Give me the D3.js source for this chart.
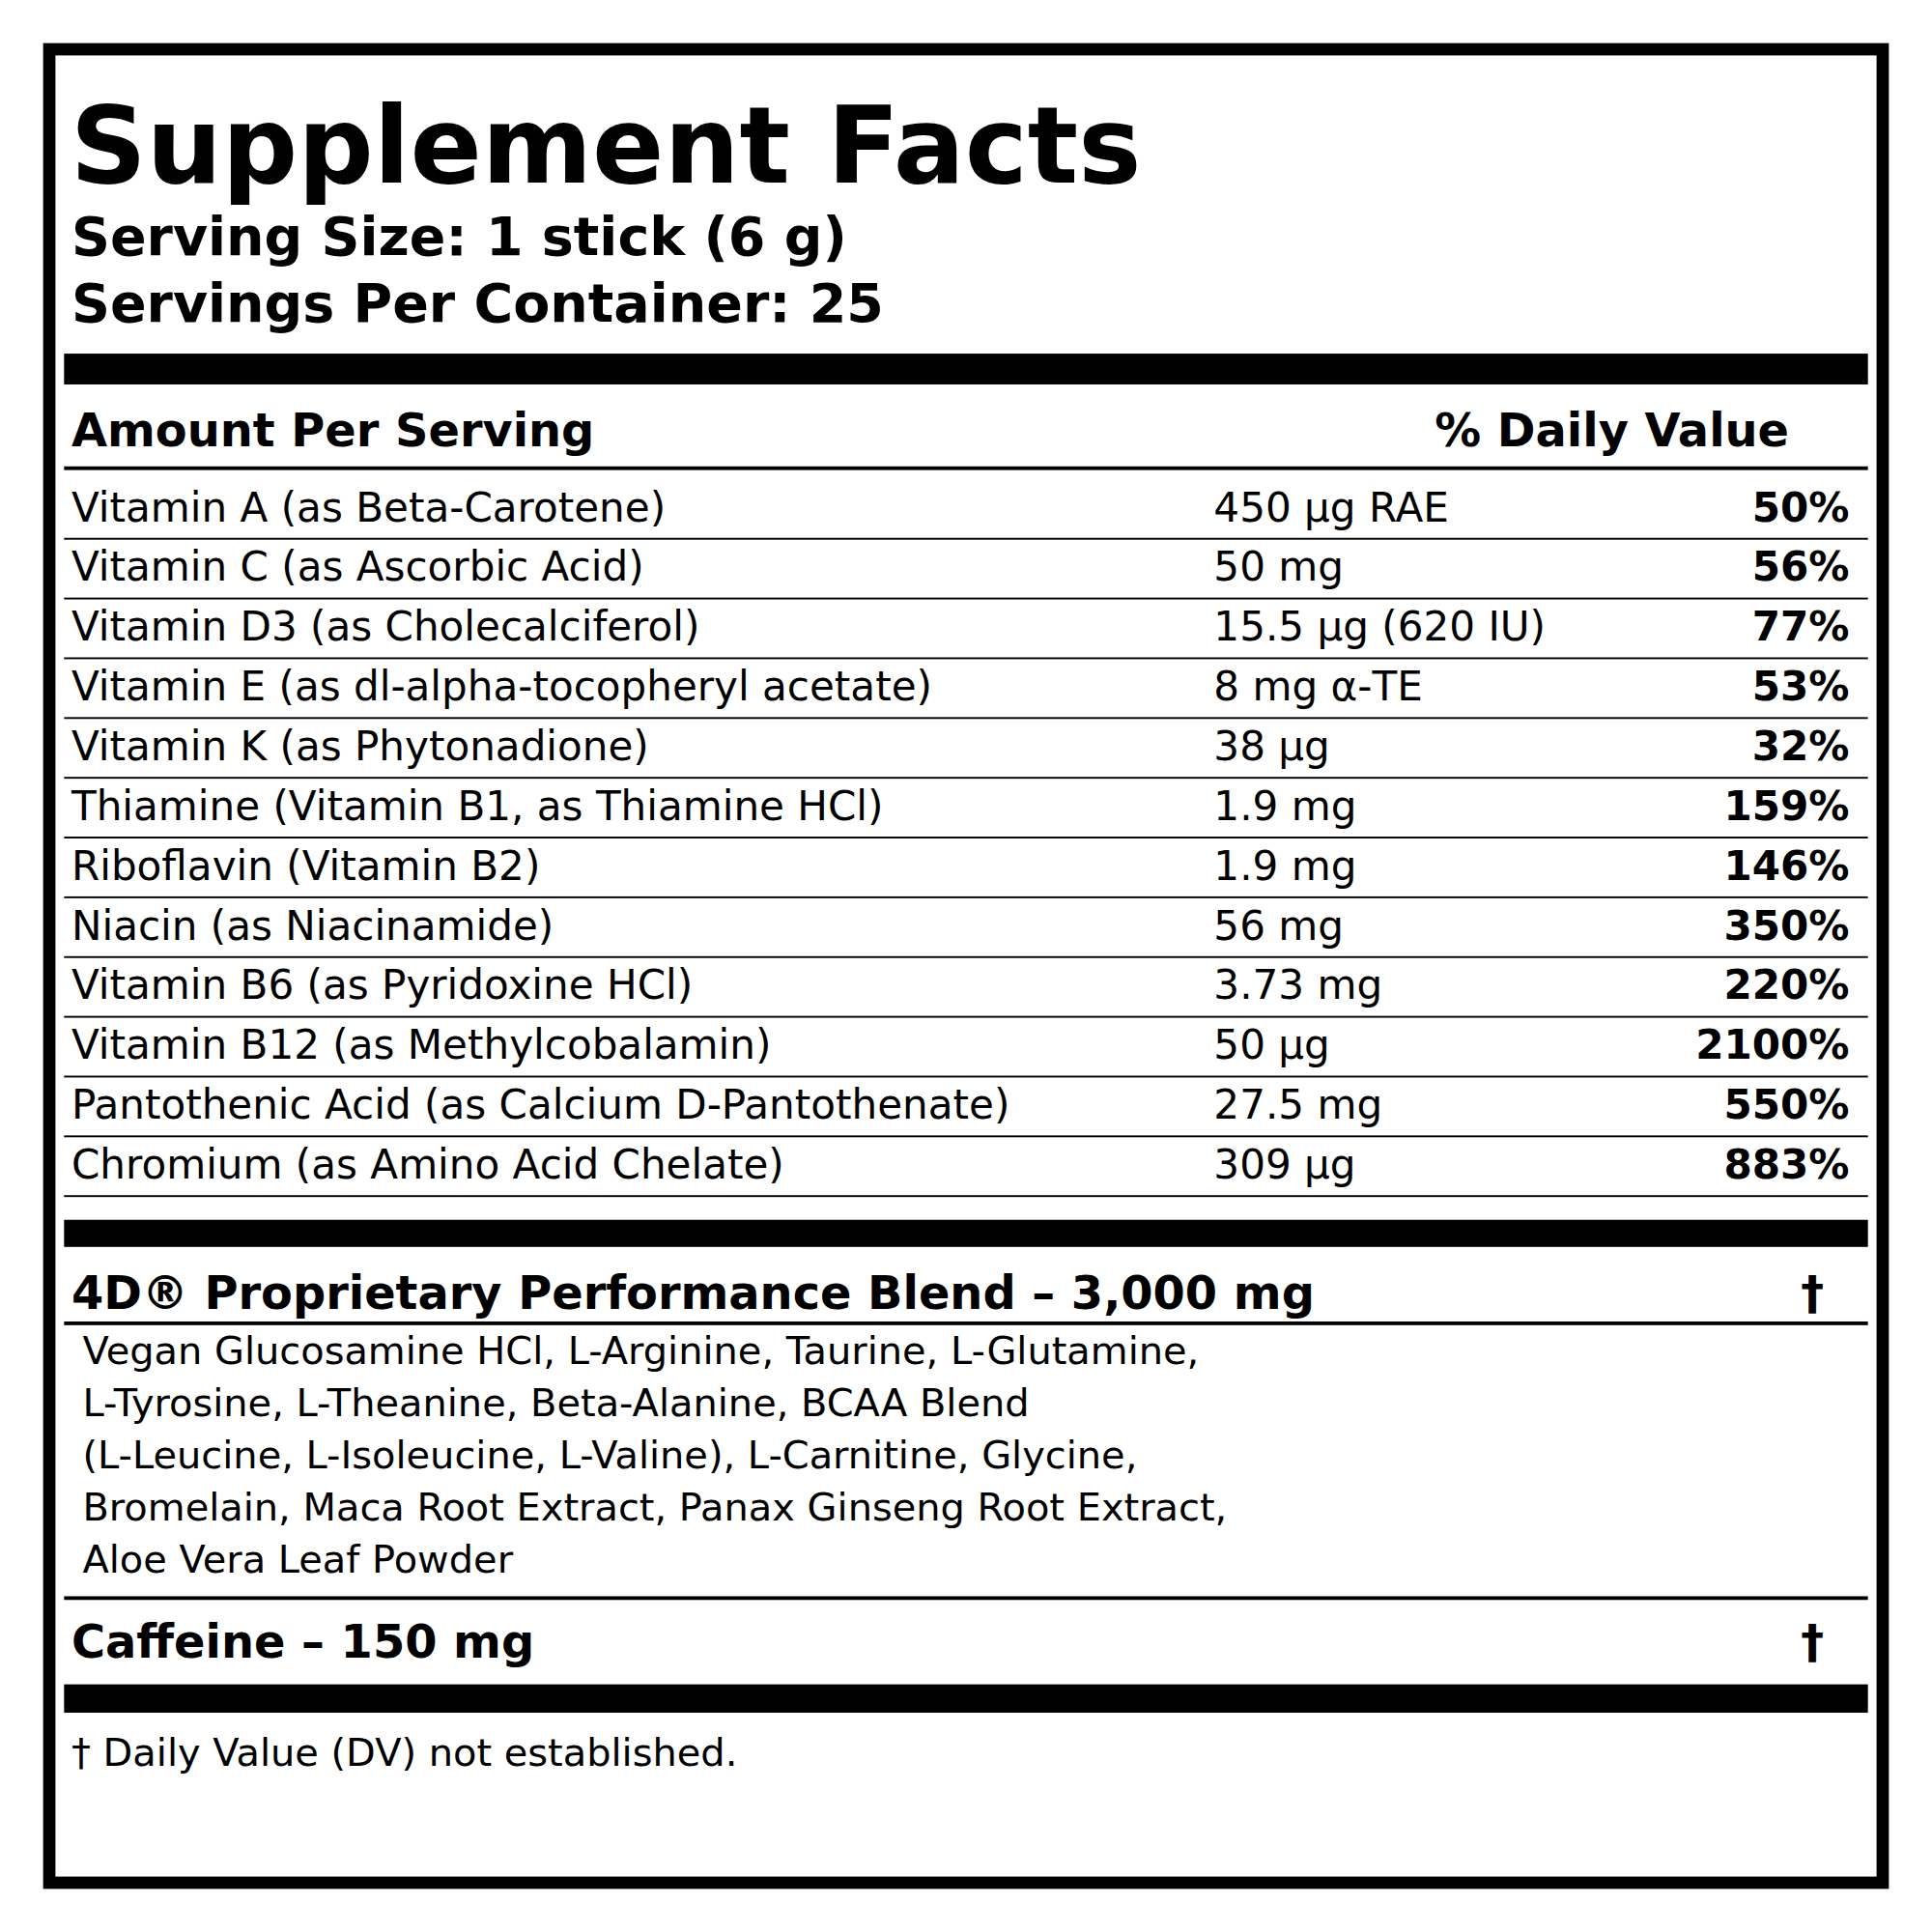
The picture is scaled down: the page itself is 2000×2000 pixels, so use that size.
<!DOCTYPE html>
<html><head><meta charset="utf-8">
<script src="https://cdn.jsdelivr.net/npm/d3@7"></script>
<style>body{margin:0;background:#fff}svg{display:block}text{font-family:"DejaVu Sans",sans-serif;fill:#000}</style>
</head><body><div id="chart"></div>
<script>
var nutrients = ["Vitamin A (as Beta-Carotene)","Vitamin C (as Ascorbic Acid)","Vitamin D3 (as Cholecalciferol)","Vitamin E (as dl-alpha-tocopheryl acetate)","Vitamin K (as Phytonadione)","Thiamine (Vitamin B1, as Thiamine HCl)","Riboflavin (Vitamin B2)","Niacin (as Niacinamide)","Vitamin B6 (as Pyridoxine HCl)","Vitamin B12 (as Methylcobalamin)","Pantothenic Acid (as Calcium D-Pantothenate)","Chromium (as Amino Acid Chelate)"];
var amounts = ["450 µg RAE","50 mg","15.5 µg (620 IU)","8 mg α-TE","38 µg","1.9 mg","1.9 mg","56 mg","3.73 mg","50 µg","27.5 mg","309 µg"];
var dailyValues = ["50%","56%","77%","53%","32%","159%","146%","350%","220%","2100%","550%","883%"];
var blendLines = ["Vegan Glucosamine HCl, L-Arginine, Taurine, L-Glutamine,","L-Tyrosine, L-Theanine, Beta-Alanine, BCAA Blend","(L-Leucine, L-Isoleucine, L-Valine), L-Carnitine, Glycine,","Bromelain, Maca Root Extract, Panax Ginseng Root Extract,","Aloe Vera Leaf Powder"];

var svg = d3.select('#chart').append('svg')
  .attr('width', 2000).attr('height', 2000)
  .attr('viewBox', '0 0 1568 1568');

svg.append('rect').attr('x', 40).attr('y', 40).attr('width', 1488).attr('height', 1488)
  .attr('fill', 'none').attr('stroke', '#000').attr('stroke-width', 10);

function txt(x, y, s, size, bold, anchor) {
  return svg.append('text').attr('x', x).attr('y', y).text(s)
    .attr('font-size', size).attr('font-weight', bold ? 'bold' : 'normal')
    .attr('text-anchor', anchor || 'start');
}
function bar(y, h) {
  svg.append('rect').attr('x', 52).attr('y', y).attr('width', 1464).attr('height', h).attr('fill', '#000');
}

txt(57, 148, 'Supplement Facts', 86, true);
txt(58, 207, 'Serving Size: 1 stick (6 g)', 43.5, true);
txt(58, 261, 'Servings Per Container: 25', 43.5, true);
bar(287, 25);
txt(58, 362, 'Amount Per Serving', 37.5, true);
txt(1452, 362, '% Daily Value', 37.5, true, 'end');
bar(378.5, 3);

var y = d3.scaleBand().domain(nutrients).range([389, 971]);
var rows = svg.selectAll('g.row').data(nutrients).enter().append('g').attr('class', 'row')
  .attr('transform', function(d) { return 'translate(0,' + y(d) + ')'; });
rows.append('text').attr('x', 58).attr('y', 34).attr('font-size', 33).text(function(d) { return d; });
rows.append('text').attr('x', 985).attr('y', 34).attr('font-size', 33).text(function(d, i) { return amounts[i]; });
rows.append('text').attr('x', 1501).attr('y', 34).attr('font-size', 33).attr('font-weight', 'bold')
  .attr('text-anchor', 'end').text(function(d, i) { return dailyValues[i]; });
rows.append('rect').attr('x', 52).attr('y', y.bandwidth() - 1).attr('width', 1464).attr('height', 1.5).attr('fill', '#000');

bar(990, 22);
txt(58, 1062, '4D® Proprietary Performance Blend – 3,000 mg', 37.5, true);
txt(1471, 1062, '†', 37.5, true, 'middle');
bar(1072.5, 3);
var by = d3.scaleLinear().domain([0, 1]).range([1107, 1149.3]);
svg.selectAll('text.blend').data(blendLines).enter().append('text').attr('class', 'blend')
  .attr('x', 67).attr('y', function(d, i) { return by(i); }).attr('font-size', 31.3).text(function(d) { return d; });
bar(1295.5, 3);
txt(58, 1345, 'Caffeine – 150 mg', 37.5, true);
txt(1471, 1345, '†', 37.5, true, 'middle');
bar(1367, 23);
txt(58, 1433, '† Daily Value (DV) not established.', 31.3, false);
</script></body></html>
